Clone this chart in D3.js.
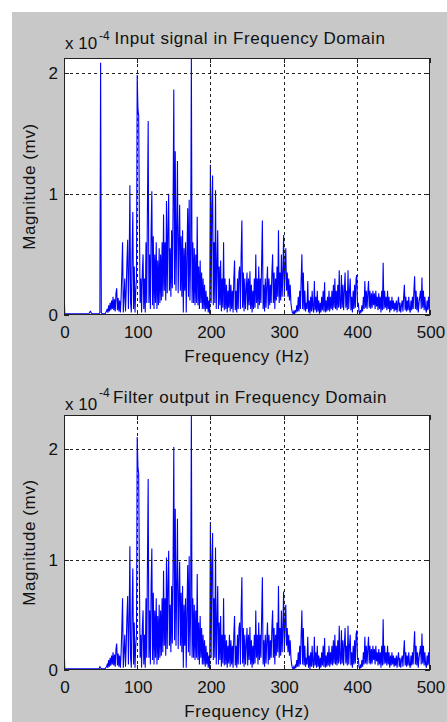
<!DOCTYPE html>
<html>
<head>
<meta charset="utf-8">
<script src="https://cdn.jsdelivr.net/npm/d3@7"></script>
<style>
    body { margin: 0; background: #fff; }
    text { font-family: "Liberation Sans", Arial, sans-serif; fill: #111; }
</style>
</head>
<body>
<div id="chart"></div>
<script>
// spectrum samples, 1 Hz apart from 0 Hz to 500 Hz (units x 10^-4 mv)
const freqStep = 1;

const inputMag = [
    0.27,0.01,0.01,0.01,0.01,0.01,0.01,0.01,0.01,0.01,
    0.01,0.01,0.01,0.01,0.01,0.01,0.01,0.01,0.01,0.01,
    0.01,0.01,0.01,0.01,0.01,0.01,0.01,0.01,0.01,0.01,
    0.01,0.01,0.01,0.01,0.01,0.02,0.03,0.02,0.01,0.01,
    0.01,0.01,0.01,0.01,0.01,0.01,0.01,0.01,0.01,0.02,
    2.08,0.02,0.01,0.01,0.01,0.01,0.01,0.02,0.03,0.05,
    0.02,0.08,0.03,0.1,0.04,0.12,0.05,0.15,0.04,0.13,
    0.03,0.18,0.22,0.04,0.14,0.03,0.12,0.02,0.14,0.35,
    0.6,0.02,0.15,0.3,0.03,0.2,0.45,0.62,0.05,0.4,
    1.07,0.1,0.02,0.5,0.85,0.05,0.4,0.02,0.2,0.3,
    1.98,1.7,1.65,0.8,0.1,0.3,0.02,0.35,0.5,0.05,
    0.3,0.02,0.6,0.1,0.9,1.6,0.1,0.5,0.05,0.7,
    1.02,0.08,0.65,0.05,0.5,0.1,0.6,0.05,0.45,0.08,
    0.55,0.1,0.5,0.12,0.6,0.15,0.83,0.2,0.6,0.12,
    0.94,0.18,0.7,1.0,0.2,0.55,0.15,0.7,0.22,0.9,
    1.86,0.25,1.35,0.2,0.7,1.27,0.18,0.6,0.91,0.2,
    0.65,0.15,0.7,0.02,0.55,0.2,0.6,0.02,0.5,0.88,
    0.15,0.95,0.12,0.5,2.12,0.1,0.6,0.1,0.55,0.08,
    0.5,0.1,0.81,0.08,0.4,0.05,0.45,0.1,0.35,0.05,
    0.3,0.05,0.25,0.03,0.2,0.05,0.15,0.02,0.12,0.01,
    1.24,0.1,0.9,1.15,0.08,0.6,0.1,1.03,0.05,0.4,
    0.7,0.05,0.4,0.08,0.45,0.03,0.3,0.06,0.6,0.04,
    0.3,0.05,0.25,0.02,0.2,0.06,0.3,0.03,0.25,0.05,
    0.2,0.02,0.3,0.45,0.04,0.2,0.02,0.3,0.05,0.35,
    0.4,0.05,0.5,0.78,0.06,0.35,0.03,0.3,0.05,0.2,
    0.35,0.04,0.3,0.08,0.36,0.05,0.25,0.02,0.2,0.05,
    0.3,0.06,0.5,0.1,0.3,0.05,0.4,0.08,0.3,0.1,
    0.45,0.78,0.05,0.25,0.03,0.3,0.06,0.25,0.4,0.05,
    0.3,0.08,0.25,0.1,0.35,0.5,0.1,0.35,0.05,0.3,
    0.12,0.4,0.15,0.7,0.1,0.35,0.12,0.5,0.15,0.35,
    0.66,0.15,0.4,0.55,0.2,0.35,0.15,0.3,0.12,0.25,
    0.1,0.05,0.02,0.01,0.03,0.01,0.04,0.02,0.08,0.03,
    0.15,0.03,0.2,0.05,0.3,0.5,0.05,0.35,0.04,0.2,
    0.03,0.1,0.05,0.28,0.02,0.12,0.01,0.15,0.03,0.2,
    0.05,0.02,0.28,0.04,0.15,0.02,0.2,0.03,0.12,0.01,
    0.1,0.02,0.15,0.04,0.2,0.03,0.27,0.02,0.12,0.03,
    0.15,0.04,0.2,0.03,0.15,0.05,0.2,0.04,0.25,0.06,
    0.3,0.05,0.2,0.04,0.25,0.06,0.37,0.08,0.05,0.33,
    0.06,0.25,0.04,0.2,0.35,0.06,0.2,0.04,0.37,0.05,
    0.2,0.3,0.04,0.15,0.02,0.2,0.05,0.25,0.06,0.3,
    0.33,0.08,0.1,0.03,0.01,0.04,0.02,0.08,0.03,0.15,
    0.05,0.28,0.06,0.2,0.05,0.18,0.28,0.06,0.2,0.05,
    0.18,0.06,0.2,0.08,0.18,0.05,0.2,0.07,0.15,0.04,
    0.18,0.05,0.15,0.02,0.2,0.04,0.43,0.05,0.2,0.06,
    0.15,0.04,0.2,0.05,0.15,0.02,0.12,0.04,0.15,0.05,
    0.12,0.03,0.1,0.04,0.12,0.02,0.1,0.15,0.03,0.1,
    0.02,0.08,0.12,0.03,0.15,0.25,0.04,0.15,0.03,0.12,
    0.04,0.15,0.05,0.02,0.12,0.04,0.15,0.05,0.2,0.32,
    0.05,0.2,0.04,0.15,0.02,0.1,0.15,0.2,0.05,0.31,
    0.06,0.2,0.04,0.15,0.05,0.02,0.12,0.04,0.15,0.05,
    0.12
];

const outputMag = [
    0.29,0.01,0.01,0.01,0.01,0.01,0.01,0.01,0.01,0.01,
    0.01,0.01,0.01,0.01,0.01,0.01,0.01,0.01,0.01,0.01,
    0.01,0.01,0.01,0.01,0.01,0.01,0.01,0.01,0.01,0.01,
    0.01,0.01,0.01,0.01,0.01,0.01,0.01,0.01,0.01,0.01,
    0.01,0.01,0.01,0.01,0.01,0.01,0.01,0.01,0.01,0.03,
    0.02,0.01,0.01,0.01,0.01,0.01,0.01,0.02,0.03,0.05,
    0.02,0.09,0.03,0.11,0.04,0.13,0.05,0.16,0.04,0.14,
    0.03,0.19,0.24,0.04,0.15,0.03,0.13,0.02,0.15,0.38,
    0.65,0.02,0.16,0.32,0.03,0.22,0.49,0.67,0.05,0.43,
    1.12,0.11,0.02,0.54,0.92,0.05,0.43,0.02,0.22,0.32,
    2.11,1.84,1.78,0.86,0.11,0.32,0.02,0.38,0.54,0.05,
    0.32,0.02,0.65,0.11,0.97,1.73,0.11,0.54,0.05,0.76,
    1.1,0.09,0.7,0.05,0.54,0.11,0.65,0.05,0.49,0.09,
    0.59,0.11,0.54,0.13,0.65,0.16,0.9,0.22,0.65,0.13,
    1.02,0.19,0.76,1.08,0.22,0.59,0.16,0.76,0.24,0.97,
    2.02,0.27,1.46,0.22,0.76,1.37,0.19,0.65,0.98,0.22,
    0.7,0.16,0.76,0.02,0.59,0.22,0.65,0.02,0.54,0.95,
    0.16,1.03,0.13,0.54,2.31,0.11,0.65,0.11,0.59,0.09,
    0.54,0.11,0.87,0.09,0.43,0.05,0.49,0.11,0.38,0.05,
    0.32,0.05,0.27,0.03,0.22,0.05,0.16,0.02,0.13,0.01,
    1.34,0.11,0.97,1.24,0.09,0.65,0.11,1.11,0.05,0.43,
    0.76,0.05,0.43,0.09,0.49,0.03,0.32,0.06,0.65,0.04,
    0.32,0.05,0.27,0.02,0.22,0.06,0.32,0.03,0.27,0.05,
    0.22,0.02,0.32,0.49,0.04,0.22,0.02,0.32,0.05,0.38,
    0.43,0.05,0.54,0.84,0.06,0.38,0.03,0.32,0.05,0.22,
    0.38,0.04,0.32,0.09,0.39,0.05,0.27,0.02,0.22,0.05,
    0.32,0.06,0.54,0.11,0.32,0.05,0.43,0.09,0.32,0.11,
    0.49,0.84,0.05,0.27,0.03,0.32,0.06,0.27,0.43,0.05,
    0.32,0.09,0.27,0.11,0.38,0.54,0.11,0.38,0.05,0.32,
    0.13,0.43,0.16,0.76,0.11,0.38,0.13,0.54,0.16,0.38,
    0.71,0.16,0.43,0.59,0.22,0.38,0.16,0.32,0.13,0.27,
    0.11,0.05,0.02,0.01,0.03,0.01,0.04,0.02,0.09,0.03,
    0.16,0.03,0.22,0.05,0.32,0.54,0.05,0.38,0.04,0.22,
    0.03,0.11,0.05,0.3,0.02,0.13,0.01,0.16,0.03,0.22,
    0.05,0.02,0.3,0.04,0.16,0.02,0.22,0.03,0.13,0.01,
    0.11,0.02,0.16,0.04,0.22,0.03,0.29,0.02,0.13,0.03,
    0.16,0.04,0.22,0.03,0.16,0.05,0.22,0.04,0.27,0.06,
    0.32,0.05,0.22,0.04,0.27,0.06,0.4,0.09,0.05,0.36,
    0.06,0.27,0.04,0.22,0.38,0.06,0.22,0.04,0.4,0.05,
    0.22,0.32,0.04,0.16,0.02,0.22,0.05,0.27,0.06,0.32,
    0.36,0.09,0.11,0.03,0.01,0.04,0.02,0.09,0.03,0.16,
    0.05,0.3,0.06,0.22,0.05,0.19,0.3,0.06,0.22,0.05,
    0.19,0.06,0.22,0.09,0.19,0.05,0.22,0.08,0.16,0.04,
    0.19,0.05,0.16,0.02,0.22,0.04,0.46,0.05,0.22,0.06,
    0.16,0.04,0.22,0.05,0.16,0.02,0.13,0.04,0.16,0.05,
    0.13,0.03,0.11,0.04,0.13,0.02,0.11,0.16,0.03,0.11,
    0.02,0.09,0.13,0.03,0.16,0.27,0.04,0.16,0.03,0.13,
    0.04,0.16,0.05,0.02,0.13,0.04,0.16,0.05,0.22,0.35,
    0.05,0.22,0.04,0.16,0.02,0.11,0.16,0.22,0.05,0.33,
    0.06,0.22,0.04,0.16,0.05,0.02,0.13,0.04,0.16,0.05,
    0.13
];

const xTicks = [0, 100, 200, 300, 400, 500];
const yTicks = [0, 1, 2];
const titles = ["Input signal in Frequency Domain", "Filter output in Frequency Domain"];
const xLabel = "Frequency (Hz)";
const yLabel = "Magnitude (mv)";
const expLabel = ["x 10", "-4"];

class SpectrumPlot{
    constructor(svg, data, title, layout){
        this.svg = svg;
        this.data = data;
        this.title = title;
        this.layout = layout;

        this.initVis();
    }

    initVis(){
        let vis = this;
        let L = vis.layout;

        vis.x = d3.scaleLinear().domain([0, 500]).range([L.left, L.right]);
        // tight y limits like matlab axis tight
        vis.y = d3.scaleLinear().domain([0, d3.max(vis.data)]).range([L.bottom, L.top]);

        vis.g = vis.svg.append("g");

        vis.g.append("rect")
            .attr("x", L.left).attr("y", L.top)
            .attr("width", L.right - L.left).attr("height", L.bottom - L.top)
            .attr("fill", "#fff");

        let clipId = "clip" + L.id;
        vis.g.append("clipPath").attr("id", clipId)
            .append("rect")
            .attr("x", L.left).attr("y", L.top - 1)
            .attr("width", L.right - L.left).attr("height", L.bottom - L.top + 1);

        // spectrum line
        let line = d3.line()
            .x((d, i) => vis.x(i * freqStep))
            .y(d => vis.y(d));

        vis.g.append("path")
            .datum(vis.data)
            .attr("clip-path", `url(#${clipId})`)
            .attr("d", line)
            .attr("fill", "none")
            .attr("stroke", "#0000ff")
            .attr("stroke-width", 1.1);

        // dotted grid drawn on top
        vis.g.selectAll(".vgrid")
            .data(xTicks.slice(1, -1))
            .enter().append("line")
            .attr("x1", d => Math.round(vis.x(d)) + 0.5).attr("x2", d => Math.round(vis.x(d)) + 0.5)
            .attr("y1", L.top).attr("y2", L.bottom)
            .attr("stroke", "#222").attr("stroke-dasharray", "3,3");

        vis.g.selectAll(".hgrid")
            .data(yTicks.slice(1))
            .enter().append("line")
            .attr("x1", L.left).attr("x2", L.right)
            .attr("y1", d => Math.round(vis.y(d)) + 0.5).attr("y2", d => Math.round(vis.y(d)) + 0.5)
            .attr("stroke", "#222").attr("stroke-dasharray", "3,3");

        // box
        vis.g.append("rect")
            .attr("x", L.left + 0.5).attr("y", L.top + 0.5)
            .attr("width", L.right - L.left - 1).attr("height", L.bottom - L.top - 1)
            .attr("fill", "none").attr("stroke", "#222");

        // inward ticks on all four sides
        let tl = 5;
        xTicks.forEach(t => {
            let px = Math.round(vis.x(t)) + 0.5;
            vis.g.append("line").attr("x1", px).attr("x2", px)
                .attr("y1", L.bottom).attr("y2", L.bottom - tl).attr("stroke", "#222");
            vis.g.append("line").attr("x1", px).attr("x2", px)
                .attr("y1", L.top).attr("y2", L.top + tl).attr("stroke", "#222");
        });
        yTicks.forEach(t => {
            let py = Math.round(vis.y(t)) + 0.5;
            vis.g.append("line").attr("x1", L.left).attr("x2", L.left + tl)
                .attr("y1", py).attr("y2", py).attr("stroke", "#222");
            vis.g.append("line").attr("x1", L.right).attr("x2", L.right - tl)
                .attr("y1", py).attr("y2", py).attr("stroke", "#222");
        });

        // tick labels
        vis.g.selectAll(".xlab")
            .data(xTicks)
            .enter().append("text")
            .attr("x", d => vis.x(d) + 1)
            .attr("y", L.tickY)
            .attr("text-anchor", "middle")
            .style("font-size", "17px")
            .text(d => d);

        vis.g.selectAll(".ylab")
            .data(yTicks)
            .enter().append("text")
            .attr("x", L.left - 6)
            .attr("y", d => vis.y(d) + 6)
            .attr("text-anchor", "end")
            .style("font-size", "17px")
            .text(d => d);

        // labels and title
        vis.g.append("text")
            .attr("x", (L.left + L.right) / 2)
            .attr("y", L.xlabelY)
            .attr("text-anchor", "middle")
            .style("font-size", "17px").style("letter-spacing", "0.6px")
            .text(xLabel);

        vis.g.append("text")
            .attr("transform", `translate(35,${(L.top + L.bottom) / 2}) rotate(-90)`)
            .attr("text-anchor", "middle")
            .style("font-size", "17px").style("letter-spacing", "0.6px")
            .text(yLabel);

        vis.g.append("text")
            .attr("x", (L.left + L.right) / 2 + 3)
            .attr("y", L.titleY)
            .attr("text-anchor", "middle")
            .style("font-size", "17px").style("letter-spacing", "0.55px")
            .text(vis.title);

        vis.g.append("text")
            .attr("x", L.left + 1)
            .attr("y", L.expY)
            .style("font-size", "17px")
            .text(expLabel[0]);

        vis.g.append("text")
            .attr("x", L.left + 35)
            .attr("y", L.expSupY)
            .style("font-size", "12px")
            .text(expLabel[1]);
    }
}

let width = 447, height = 722;
let svg = d3.select("#chart").append("svg")
    .attr("width", width)
    .attr("height", height);

// matlab figure background
svg.append("rect")
    .attr("x", 12).attr("y", 12)
    .attr("width", width - 12).attr("height", height - 12)
    .attr("fill", "#c8c8c8");

new SpectrumPlot(svg, inputMag, titles[0],
    {id: 1, left: 64, right: 430, top: 58, bottom: 315, titleY: 44, expY: 49, expSupY: 40, tickY: 338, xlabelY: 362});
new SpectrumPlot(svg, outputMag, titles[1],
    {id: 2, left: 64, right: 430, top: 415, bottom: 670, titleY: 403, expY: 410, expSupY: 397, tickY: 693, xlabelY: 717});
</script>
</body>
</html>
